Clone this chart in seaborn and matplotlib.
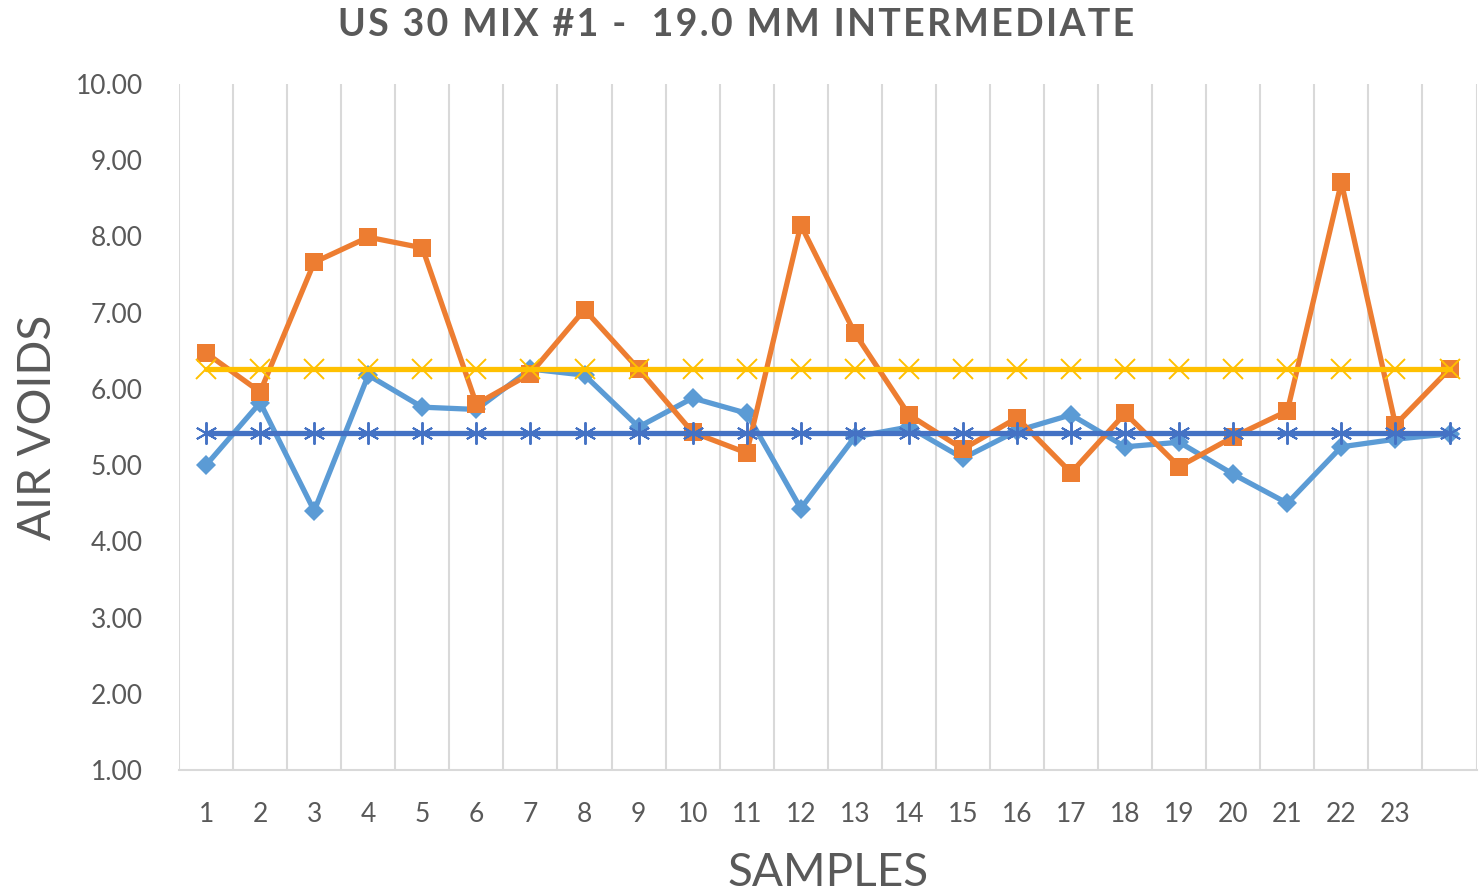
import matplotlib
matplotlib.use("Agg")
import matplotlib.pyplot as plt
import seaborn as sns
import pandas as pd
import numpy as np

# ----------------------------------------------------
# ------------- 1. DATOS -----------------------------
# ----------------------------------------------------
samples = list(range(1, 25))
sample_labels = [str(i) for i in range(1, 24)] + [""]

# Serie 1 (rombos azul claro)
air_voids_a = [5.00, 5.82, 4.40, 6.18, 5.76, 5.73, 6.26, 6.18, 5.50, 5.88, 5.68, 4.43,
               5.37, 5.50, 5.09, 5.45, 5.66, 5.24, 5.30, 4.88, 4.50, 5.24, 5.34, 5.41]
# Serie 2 (cuadros naranja)
air_voids_b = [6.47, 5.96, 7.66, 7.99, 7.85, 5.80, 6.20, 7.04, 6.26, 5.43, 5.16, 8.15,
               6.73, 5.66, 5.21, 5.62, 4.90, 5.68, 4.98, 5.37, 5.71, 8.71, 5.53, 6.26]
# Promedios (lineas horizontales)
avg_b = [6.26] * 24
avg_a = [5.42] * 24

y_ticks = [1.0, 2.0, 3.0, 4.0, 5.0, 6.0, 7.0, 8.0, 9.0, 10.0]

# ----------------------------------------------------
# ------------- 2. ESTILO ----------------------------
# ----------------------------------------------------
sns.set_style("white")
plt.rcParams['font.family'] = ['Lato', 'DejaVu Sans']
TEXT = '#595959'
GRID = '#D9D9D9'

df = pd.DataFrame({
    'pos': np.arange(len(samples)),
    'a': air_voids_a,
    'b': air_voids_b,
    'avg_a': avg_a,
    'avg_b': avg_b,
})

fig = plt.figure(figsize=(14.81, 8.93), dpi=100)
ax = fig.add_axes([0.1209, 0.1377, 0.8761, 0.7683])

# Orden de dibujo: rombos < naranja < amarillo < azul oscuro
sns.lineplot(data=df, x='pos', y='a', ax=ax, color='#5B9BD5', linewidth=3.8,
             marker='D', markersize=10, markeredgewidth=0, zorder=3)
sns.lineplot(data=df, x='pos', y='b', ax=ax, color='#ED7D31', linewidth=3.8,
             marker='s', markersize=13, markeredgewidth=0, zorder=4)
sns.lineplot(data=df, x='pos', y='avg_b', ax=ax, color='#FFC000', linewidth=3.8,
             marker='x', markersize=14, markeredgewidth=1.4,
             markeredgecolor='#FFC000', zorder=5)
sns.lineplot(data=df, x='pos', y='avg_a', ax=ax, color='#4472C4', linewidth=3.8,
             marker=(6, 2, 0), markersize=16, markeredgewidth=1.4,
             markeredgecolor='#4472C4', zorder=6)

# Ejes
ax.set_xlim(-0.5, len(samples) - 0.5)
ax.set_ylim(1.0, 10.0)
ax.set_yticks(y_ticks)
ax.set_yticklabels([f"{v:.2f}" for v in y_ticks])
ax.set_xticks(df['pos'])
ax.set_xticklabels(sample_labels)
ax.set_xticks(np.arange(-0.5, len(samples)), minor=True)
ax.tick_params(axis='both', which='both', length=0)
ax.tick_params(axis='y', labelsize=19, colors=TEXT, pad=26)
ax.tick_params(axis='x', labelsize=19, colors=TEXT, pad=23)

# Rejilla vertical entre categorias
ax.grid(False)
ax.grid(True, axis='x', which='minor', color=GRID, linewidth=1.5, zorder=0)
for side in ['top', 'right', 'left']:
    ax.spines[side].set_visible(False)
ax.spines['bottom'].set_color(GRID)
ax.spines['bottom'].set_linewidth(1.5)

ax.set_xlabel('SAMPLES', fontsize=33, color=TEXT, labelpad=18)
ax.set_ylabel('AIR VOIDS', fontsize=33, color=TEXT, labelpad=12)

# Titulo con espaciado entre letras (hair space)
title = 'US 30 MIX #1 -  19.0 MM INTERMEDIATE'
fig.text(0.497, 0.972, '\u200a'.join(title), ha='center', va='center',
         fontsize=27, fontweight='bold', color=TEXT)

plt.savefig('out.png', dpi=100)
plt.close()
